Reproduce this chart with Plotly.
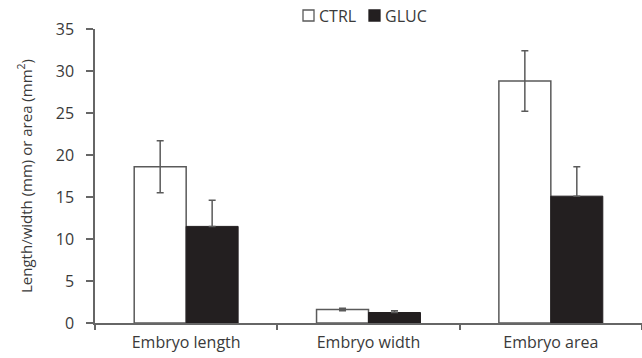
import plotly.graph_objects as go

categories = ["Embryo length", "Embryo width", "Embryo area"]
ctrl_values = [18.6, 1.6, 28.8]
ctrl_errors = [3.1, 0.15, 3.6]
gluc_values = [11.5, 1.25, 15.1]
gluc_errors = [3.1, 0.2, 3.5]
y_ticks = [0, 5, 10, 15, 20, 25, 30, 35]

font_family = "Open Sans, sans-serif"
edge = "#5a5a5a"
dark = "#231f20"
text_color = "#3a3a3a"

W, H = 642, 358
M_L, M_R, M_T, M_B = 95, 0, 29, 35
plot_w = W - M_L - M_R
plot_h = H - M_T - M_B


def px_x(p):
    return (p - M_L) / plot_w


def px_y(p):
    return (H - M_B - p) / plot_h


fig = go.Figure()
fig.add_trace(go.Bar(
    name="CTRL", x=categories, y=ctrl_values,
    marker=dict(color="white", line=dict(color=edge, width=1.5)),
    error_y=dict(type="data", array=ctrl_errors, color=edge, thickness=1.5, width=3.5),
))
fig.add_trace(go.Bar(
    name="GLUC", x=categories, y=gluc_values,
    marker=dict(color=dark, line=dict(color=dark, width=1)),
    error_y=dict(type="data", symmetric=False, array=gluc_errors,
                 arrayminus=[0] * len(gluc_errors),
                 color=edge, thickness=1.5, width=3.5),
))

# Compact legend: small squares followed directly by the series names
legend_items = [("CTRL", "white", edge, 303), ("GLUC", dark, dark, 369)]
for name, fill, line, left in legend_items:
    fig.add_shape(type="rect", xref="paper", yref="paper",
                  x0=px_x(left), x1=px_x(left + 11), y0=px_y(21), y1=px_y(10),
                  fillcolor=fill, line=dict(color=line, width=1.3))
    fig.add_annotation(xref="paper", yref="paper", x=px_x(left + 14), y=px_y(15.5),
                       text=name, showarrow=False, xanchor="left", yanchor="middle",
                       font=dict(size=16, color=text_color))

fig.update_layout(
    width=W, height=H,
    margin=dict(l=M_L, r=M_R, t=M_T, b=M_B),
    paper_bgcolor="white", plot_bgcolor="white",
    barmode="group", bargap=0.43, bargroupgap=0,
    font=dict(family=font_family, size=16, color=text_color),
    showlegend=False,
)
fig.update_xaxes(
    showline=True, linecolor="#666666", linewidth=1.5,
    ticks="outside", tickson="boundaries", ticklen=5, tickcolor="#666666", tickwidth=1.5,
    showgrid=False, tickfont=dict(size=16), ticklabelstandoff=4,
)
fig.update_yaxes(
    range=[0, 35], tickvals=y_ticks,
    showline=True, linecolor="#666666", linewidth=1.5,
    ticks="outside", ticklen=7, tickcolor="#666666", tickwidth=1.5,
    showgrid=False, zeroline=False, tickfont=dict(size=16), ticklabelstandoff=9,
    title=dict(text="Length/width (mm) or area (mm<sup>2</sup>)", font=dict(size=15), standoff=20),
)

fig.write_html("out.html")
